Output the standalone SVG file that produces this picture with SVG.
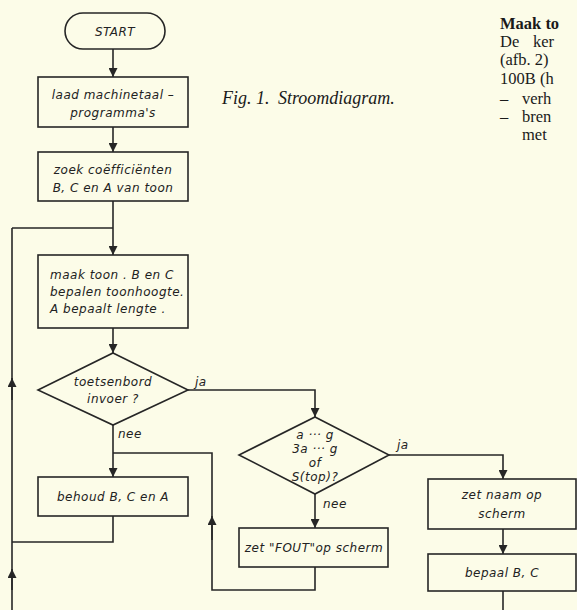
<svg xmlns="http://www.w3.org/2000/svg" width="577" height="610" viewBox="0 0 577 610">
<defs>
<marker id="ah" viewBox="0 0 10 10" refX="10" refY="5" markerWidth="9" markerHeight="9" orient="auto" markerUnits="userSpaceOnUse">
<path d="M0,0 L10,5 L0,10 z" fill="#262626"/>
</marker>
<style>
.bx{fill:none;stroke:#262626;stroke-width:1.6}
.ln{fill:none;stroke:#262626;stroke-width:1.6}
.t{font-family:"DejaVu Sans","Liberation Sans",sans-serif;font-style:italic;font-size:12px;letter-spacing:0.5px;fill:#222;text-anchor:middle}
.tl{font-family:"DejaVu Sans","Liberation Sans",sans-serif;font-style:italic;font-size:12px;letter-spacing:0.5px;fill:#222}
.s{font-family:"Liberation Serif",serif;font-size:16.5px;fill:#1a1a1a}
.fig{font-family:"Liberation Serif",serif;font-style:italic;font-size:18px;fill:#1a1a1a}
</style>
</defs>
<rect x="0" y="0" width="577" height="610" fill="#fcfce8"/>

<g id="connectors">
<path class="ln" d="M113,49 V77" marker-end="url(#ah)"/>
<path class="ln" d="M113,127 V152" marker-end="url(#ah)"/>
<path class="ln" d="M113,201 V255" marker-end="url(#ah)"/>
<path class="ln" d="M12,228 H113"/>
<path class="ln" d="M113,328 V353" marker-end="url(#ah)"/>
<path class="ln" d="M113,425 V477" marker-end="url(#ah)"/>
<path class="ln" d="M113,516 V542 H12"/>
<path class="ln" d="M12,610 V228"/>
<path class="ln" d="M12,400 V378" marker-end="url(#ah)"/>
<path class="ln" d="M12,590 V569" marker-end="url(#ah)"/>
<path class="ln" d="M188,390 H315 V417" marker-end="url(#ah)"/>
<path class="ln" d="M315,494 V528" marker-end="url(#ah)"/>
<path class="ln" d="M315,567 V590 H212 V453 H113"/>
<path class="ln" d="M212,540 V516" marker-end="url(#ah)"/>
<path class="ln" d="M389,455 H503 V479" marker-end="url(#ah)"/>
<path class="ln" d="M503,529 V554" marker-end="url(#ah)"/>
<path class="ln" d="M503,591 V610"/>
<text class="tl" x="195" y="386">ja</text>
<text class="tl" x="118" y="438">nee</text>
<text class="tl" x="323" y="508">nee</text>
<text class="tl" x="397" y="449">ja</text>
</g>

<g id="start">
<rect class="bx" x="65" y="13" width="100" height="36" rx="18"/>
<text class="t" x="115" y="36">START</text>
</g>
<g id="laad">
<rect class="bx" x="38" y="77" width="150" height="50"/>
<text class="t" x="113" y="99">laad machinetaal –</text>
<text class="t" x="113" y="117">programma's</text>
</g>
<g id="zoek">
<rect class="bx" x="38" y="152" width="150" height="49"/>
<text class="t" x="113" y="174">zoek coëfficiënten</text>
<text class="t" x="113" y="192">B, C en A van toon</text>
</g>
<g id="maak">
<rect class="bx" x="38" y="255" width="150" height="73"/>
<text class="tl" x="50" y="279">maak toon .  B en C</text>
<text class="tl" x="50" y="296">bepalen toonhoogte.</text>
<text class="tl" x="50" y="313">A bepaalt lengte .</text>
</g>
<g id="toetsenbord">
<polygon class="bx" points="113,353 188,390 113,425 38,390"/>
<text class="t" x="113" y="386">toetsenbord</text>
<text class="t" x="113" y="403">invoer ?</text>
</g>
<g id="behoud">
<rect class="bx" x="38" y="477" width="150" height="39"/>
<text class="t" x="113" y="501">behoud B, C en A</text>
</g>
<g id="keuze">
<polygon class="bx" points="315,417 389,455 315,494 239,455"/>
<text class="t" x="315" y="439">a ··· g</text>
<text class="t" x="315" y="453">3a ··· g</text>
<text class="t" x="315" y="467">of</text>
<text class="t" x="315" y="481">S(top)?</text>
</g>
<g id="fout">
<rect class="bx" x="239" y="528" width="149" height="39"/>
<text class="t" x="314" y="552">zet "FOUT"op scherm</text>
</g>
<g id="naam">
<rect class="bx" x="428" y="479" width="148" height="50"/>
<text class="t" x="502" y="499">zet naam op</text>
<text class="t" x="502" y="518">scherm</text>
</g>
<g id="bepaal">
<rect class="bx" x="428" y="554" width="148" height="37"/>
<text class="t" x="502" y="577">bepaal B, C</text>
</g>

<text class="fig" x="222" y="104">Fig. 1.</text>
<text class="fig" x="278" y="104">Stroomdiagram.</text>
<text class="s" x="500" y="29" font-weight="bold">Maak to</text>
<text class="s" x="500" y="47">De</text>
<text class="s" x="533" y="47">ker</text>
<text class="s" x="500" y="65">(afb. 2)</text>
<text class="s" x="500" y="84">100B (h</text>
<text class="s" x="500" y="104">–</text>
<text class="s" x="522" y="104">verh</text>
<text class="s" x="500" y="122">–</text>
<text class="s" x="522" y="122">bren</text>
<text class="s" x="522" y="140">met</text>
</svg>
